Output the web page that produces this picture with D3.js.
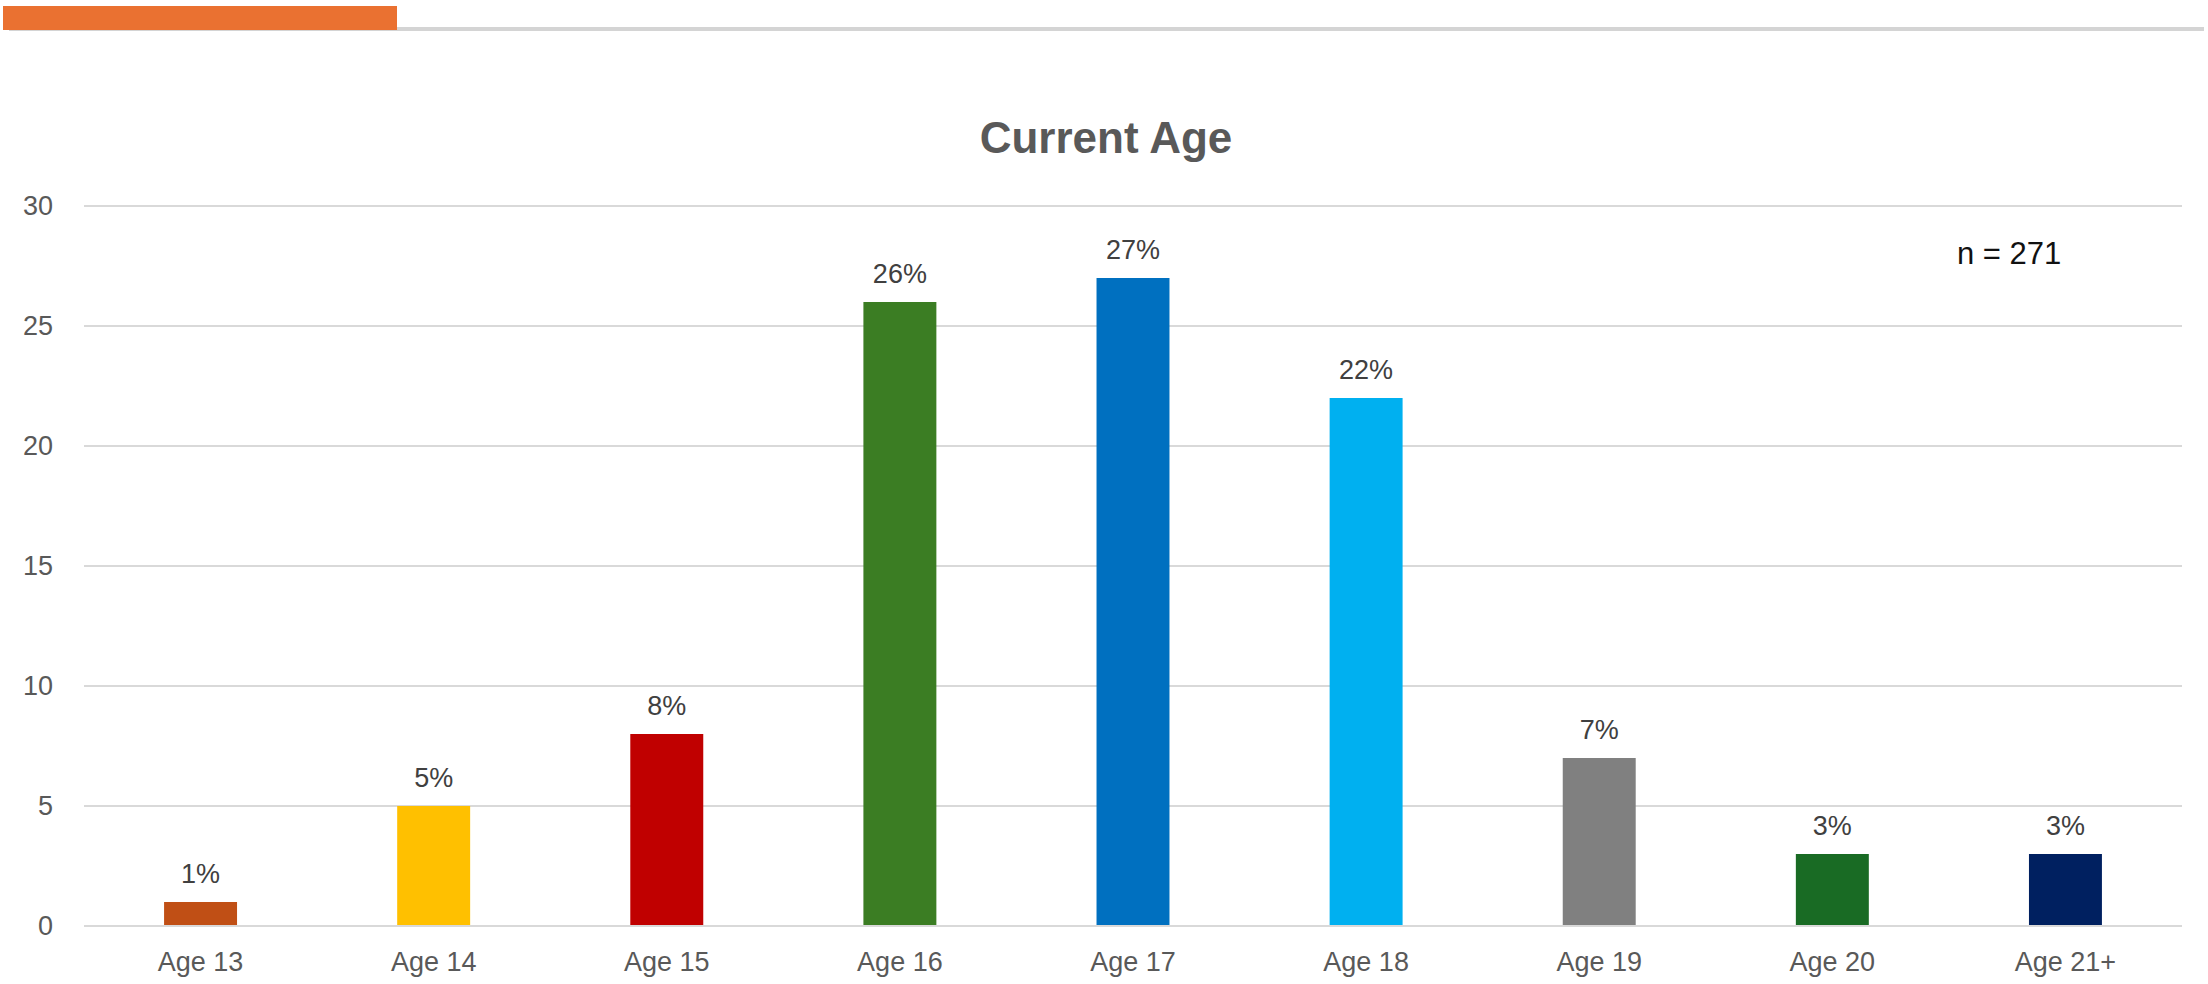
<!DOCTYPE html>
<html>
<head>
<meta charset="utf-8">
<script src="https://cdn.jsdelivr.net/npm/d3@7"></script>
<style>
  body { margin: 0; background: #fff; }
  svg { display: block; }
</style>
</head>
<body>
<script>
// chart data
var categories = ["Age 13", "Age 14", "Age 15", "Age 16", "Age 17", "Age 18", "Age 19", "Age 20", "Age 21+"];
var values = [1, 5, 8, 26, 27, 22, 7, 3, 3];
var barColors = ["#C04F15", "#FFC000", "#C00000", "#3B7D23", "#0070C0", "#00B0F0", "#808080", "#196B24", "#002060"];
var yTicks = [0, 5, 10, 15, 20, 25, 30];
var titleText = "Current Age";
var noteText = "n = 271";

var width = 2208;
var height = 984;
var margin = { top: 206, right: 26, bottom: 58, left: 84 };
var font = "'Liberation Sans', Arial, sans-serif";

var svg = d3.select("body").append("svg")
  .attr("width", width)
  .attr("height", height);

// header decoration: grey rule with orange block
svg.append("rect")
  .attr("x", 9).attr("y", 27)
  .attr("width", 2195).attr("height", 4)
  .attr("fill", "#d4d4d4");
svg.append("rect")
  .attr("x", 3).attr("y", 6)
  .attr("width", 394).attr("height", 24)
  .attr("fill", "#EA7131");

// scales
var x = d3.scaleBand()
  .domain(categories)
  .range([margin.left, width - margin.right])
  .paddingInner(0.687)
  .paddingOuter(0.3435);

var y = d3.scaleLinear()
  .domain([0, 30])
  .range([height - margin.bottom, margin.top]);

// gridlines
svg.append("g")
  .selectAll("line")
  .data(yTicks)
  .join("line")
  .attr("x1", margin.left)
  .attr("x2", width - margin.right)
  .attr("y1", function (d) { return y(d); })
  .attr("y2", function (d) { return y(d); })
  .attr("stroke", "#d9d9d9")
  .attr("stroke-width", 2);

// y axis labels
var yAxis = svg.append("g")
  .attr("transform", "translate(" + margin.left + ",0)")
  .call(d3.axisLeft(y).tickValues(yTicks).tickSize(0).tickPadding(31));
yAxis.select(".domain").remove();
yAxis.selectAll("text")
  .attr("fill", "#595959")
  .style("font-family", font)
  .style("font-size", "27px");

// bars
svg.append("g")
  .selectAll("rect")
  .data(values)
  .join("rect")
  .attr("x", function (d, i) { return x(categories[i]); })
  .attr("y", function (d) { return y(d); })
  .attr("width", x.bandwidth())
  .attr("height", function (d) { return y(0) - y(d); })
  .attr("fill", function (d, i) { return barColors[i]; });

// baseline over bars
svg.append("line")
  .attr("x1", margin.left).attr("x2", width - margin.right)
  .attr("y1", y(0)).attr("y2", y(0))
  .attr("stroke", "#d9d9d9")
  .attr("stroke-width", 2);

// value labels
svg.append("g")
  .selectAll("text")
  .data(values)
  .join("text")
  .attr("x", function (d, i) { return x(categories[i]) + x.bandwidth() / 2; })
  .attr("y", function (d) { return y(d) - 19; })
  .attr("text-anchor", "middle")
  .attr("fill", "#404040")
  .style("font-family", font)
  .style("font-size", "27px")
  .text(function (d) { return d + "%"; });

// x axis labels
var xAxis = svg.append("g")
  .attr("transform", "translate(0," + y(0) + ")")
  .call(d3.axisBottom(x).tickSize(0).tickPadding(26));
xAxis.select(".domain").remove();
xAxis.selectAll("text")
  .attr("fill", "#595959")
  .style("font-family", font)
  .style("font-size", "27px");

// title
svg.append("text")
  .attr("x", 1106)
  .attr("y", 153)
  .attr("text-anchor", "middle")
  .attr("fill", "#595959")
  .style("font-family", font)
  .style("font-size", "44px")
  .style("font-weight", "bold")
  .text(titleText);

// sample size note
svg.append("text")
  .attr("x", 1957)
  .attr("y", 264)
  .attr("fill", "#111")
  .style("font-family", font)
  .style("font-size", "31px")
  .text(noteText);
</script>
</body>
</html>
